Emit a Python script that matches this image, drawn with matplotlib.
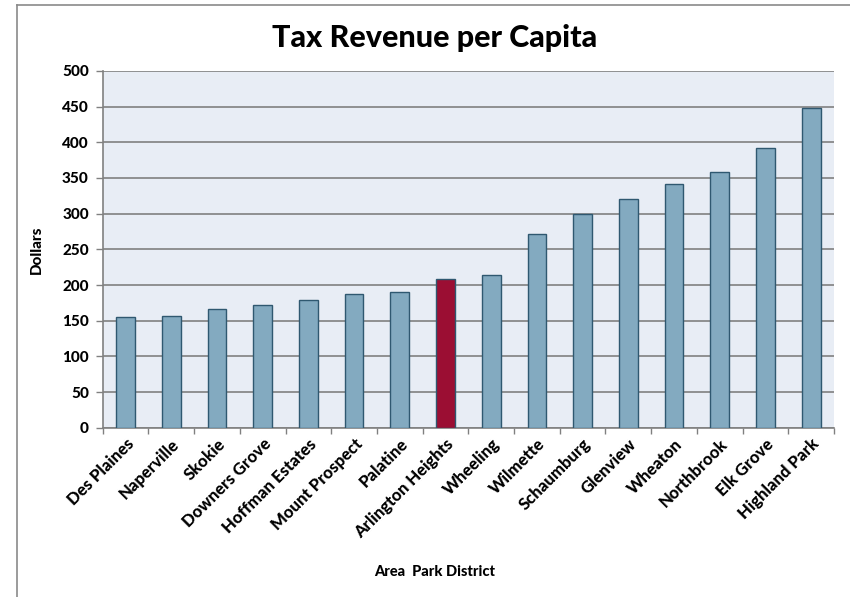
import matplotlib
matplotlib.use("Agg")
import matplotlib.pyplot as plt
from matplotlib.lines import Line2D
import numpy as np

districts = ["Des Plaines", "Naperville", "Skokie", "Downers Grove", "Hoffman Estates",
             "Mount Prospect", "Palatine", "Arlington Heights", "Wheeling", "Wilmette",
             "Schaumburg", "Glenview", "Wheaton", "Northbrook", "Elk Grove", "Highland Park"]
revenue = [155, 157, 166, 172, 179, 188, 190, 208, 214, 271, 300, 321, 342, 358, 392, 448]
highlight = "Arlington Heights"
y_ticks = [0, 50, 100, 150, 200, 250, 300, 350, 400, 450, 500]

plt.rcParams['font.family'] = ['Lato', 'DejaVu Sans']
W = 900

fig = plt.figure(figsize=(8.5, 5.97), dpi=100)
ax = fig.add_axes([0.1208, 0.2836, 0.8604, 0.5975])

# outer chart frame (top and left edges visible)
fig.add_artist(Line2D([17/850, 1.0], [1 - 4.5/597, 1 - 4.5/597], transform=fig.transFigure,
                      color="#8a8a8a", lw=1.2))
fig.add_artist(Line2D([17/850, 17/850], [0, 1 - 4.5/597], transform=fig.transFigure,
                      color="#8a8a8a", lw=1.2))

x = np.arange(len(districts))
colors = ["#9b0e33" if d == highlight else "#83aac0" for d in districts]
ax.bar(x, revenue, width=0.41, color=colors, edgecolor="#2f5870", linewidth=1.0, zorder=3)

ax.set_facecolor("#e8edf5")
ax.set_xlim(-0.5, len(districts) - 0.5)
ax.set_ylim(0, 500)
ax.set_yticks(y_ticks)
ax.set_yticklabels([str(v) for v in y_ticks], fontsize=11, fontweight=W)
ax.yaxis.grid(True, color="#808080", linewidth=1.2, zorder=1)
ax.set_axisbelow(True)

ax.set_xticks(x)
ax.set_xticklabels(districts, rotation=45, ha="right", rotation_mode="anchor",
                   fontsize=12, fontweight=W)
ax.tick_params(axis="x", which="major", length=0, pad=6)
ax.set_xticks(np.arange(-0.5, len(districts)), minor=True)
ax.tick_params(axis="x", which="minor", length=4, color="#808080", width=1)
ax.tick_params(axis="y", length=5, color="#808080", width=1, pad=5)

for side in ["top", "right"]:
    ax.spines[side].set_visible(False)
for side in ["left", "bottom"]:
    ax.spines[side].set_color("#808080")
    ax.spines[side].set_linewidth(1.2)

ax.set_ylabel("Dollars", fontsize=11, fontweight=W, labelpad=13)
fig.text(0.5118, 1 - 572/597, "Area  Park District", ha="center", va="center",
         fontsize=10.5, fontweight=W)
fig.text(0.5118, 1 - 38/597, "Tax Revenue per Capita", ha="center", va="center",
         fontsize=22, fontweight=W)

fig.savefig("out.png", dpi=100)
